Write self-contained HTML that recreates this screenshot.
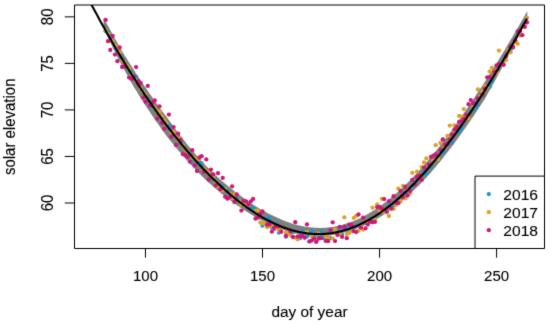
<!DOCTYPE html>
<html><head><meta charset="utf-8"><style>
html,body{margin:0;padding:0;background:#fff;}
svg{display:block;font-family:"Liberation Sans",sans-serif;}
.w{width:550px;height:324px;}
</style></head><body><div class="w">
<svg width="550" height="324" viewBox="0 0 550 324">
<defs><filter id="bl" x="0" y="0" width="550" height="324" filterUnits="userSpaceOnUse" color-interpolation-filters="sRGB"><feConvolveMatrix order="3" kernelMatrix="0.01134 0.08382 0.01134 0.08382 0.61935 0.08382 0.01134 0.08382 0.01134" divisor="1" edgeMode="duplicate" preserveAlpha="false"/></filter><clipPath id="pr"><rect x="74.5" y="5" width="470" height="243.5"/></clipPath></defs>
<g filter="url(#bl)">
<rect width="550" height="324" fill="#fff"/>
<g clip-path="url(#pr)">
<path d="M103.56,17.65 L105.19,20.72 L106.83,23.76 L108.47,26.79 L110.10,29.79 L111.74,32.78 L113.37,35.74 L115.01,38.69 L116.65,41.61 L118.28,44.51 L119.92,47.39 L121.55,50.26 L123.19,52.98 L124.82,55.63 L126.46,58.27 L128.10,60.88 L129.73,63.48 L131.37,66.05 L133.00,68.61 L134.64,71.14 L136.28,73.66 L137.91,76.15 L139.55,78.63 L141.18,81.09 L142.82,83.52 L144.46,85.94 L146.09,88.35 L147.73,90.75 L149.36,93.13 L151.00,95.50 L152.64,97.84 L154.27,100.16 L155.91,102.47 L157.54,104.75 L159.18,107.01 L160.82,109.26 L162.45,111.48 L164.09,113.68 L165.72,115.87 L167.36,118.03 L168.99,120.19 L170.63,122.48 L172.27,124.74 L173.90,126.98 L175.54,129.21 L177.17,131.41 L178.81,133.59 L180.45,135.74 L182.08,137.88 L183.72,140.00 L185.35,142.09 L186.99,144.16 L188.63,146.17 L190.26,148.12 L191.90,150.06 L193.53,151.98 L195.17,153.87 L196.81,155.75 L198.44,157.60 L200.08,159.44 L201.71,161.25 L203.35,163.05 L204.98,164.76 L206.62,166.41 L208.26,168.05 L209.89,169.67 L211.53,171.26 L213.16,172.84 L214.80,174.40 L216.44,175.94 L218.07,177.46 L219.71,178.96 L221.34,180.41 L222.98,181.82 L224.62,183.21 L226.25,184.58 L227.89,185.93 L229.52,187.26 L231.16,188.57 L232.80,189.87 L234.43,191.14 L236.07,192.39 L237.70,193.62 L239.34,194.84 L240.98,196.07 L242.61,197.29 L244.25,198.48 L245.88,199.65 L247.52,200.80 L249.15,201.93 L250.79,203.03 L252.43,204.11 L254.06,205.17 L255.70,206.21 L257.33,207.22 L258.97,208.21 L260.61,209.17 L262.24,210.11 L263.88,211.03 L265.51,211.92 L267.15,212.79 L268.79,213.63 L270.42,214.45 L272.06,215.24 L273.69,216.01 L275.33,216.80 L276.97,217.59 L278.60,218.34 L280.24,219.07 L281.87,219.78 L283.51,220.45 L285.14,221.10 L286.78,221.72 L288.42,222.31 L290.05,222.87 L291.69,223.40 L293.32,223.91 L294.96,224.38 L296.60,224.82 L298.23,225.24 L299.87,225.62 L301.50,225.98 L303.14,226.30 L304.78,226.59 L306.41,226.86 L308.05,227.09 L309.68,227.29 L311.32,227.47 L312.96,227.62 L314.59,227.73 L316.23,227.82 L317.86,227.87 L319.50,227.89 L321.14,227.88 L322.77,227.84 L324.41,227.76 L326.04,227.66 L327.68,227.52 L329.31,227.35 L330.95,227.14 L332.59,226.91 L334.22,226.64 L335.86,226.34 L337.49,226.01 L339.13,225.65 L340.77,225.25 L342.40,224.83 L344.04,224.37 L345.67,223.87 L347.31,223.34 L348.95,222.77 L350.58,222.18 L352.22,221.55 L353.85,220.89 L355.49,220.20 L357.13,219.48 L358.76,218.73 L360.40,217.95 L362.03,217.13 L363.67,216.29 L365.30,215.41 L366.94,214.51 L368.58,213.57 L370.21,212.60 L371.85,211.61 L373.48,210.58 L375.12,209.53 L376.76,208.44 L378.39,207.33 L380.03,206.18 L381.66,205.01 L383.30,203.80 L384.94,202.57 L386.57,201.31 L388.21,200.02 L389.84,198.70 L391.48,197.35 L393.12,195.98 L394.75,194.58 L396.39,193.15 L398.02,191.70 L399.66,190.22 L401.30,188.71 L402.93,187.18 L404.57,185.62 L406.20,184.03 L407.84,182.42 L409.47,180.79 L411.11,179.13 L412.75,177.44 L414.38,175.73 L416.02,173.99 L417.65,172.23 L419.29,170.45 L420.93,168.64 L422.56,166.81 L424.20,164.95 L425.83,163.08 L427.47,161.17 L429.11,159.24 L430.74,157.29 L432.38,155.31 L434.01,153.32 L435.65,151.30 L437.29,149.26 L438.92,147.19 L440.56,145.11 L442.19,143.00 L443.83,140.88 L445.46,138.73 L447.10,136.56 L448.74,134.37 L450.37,132.16 L452.01,129.93 L453.64,127.68 L455.28,125.41 L456.92,123.12 L458.55,120.81 L460.19,118.48 L461.82,116.13 L463.46,113.76 L465.10,111.37 L466.73,108.97 L468.37,106.54 L470.00,104.10 L471.64,101.64 L473.28,99.16 L474.91,96.75 L476.55,94.31 L478.18,91.86 L479.82,89.39 L481.46,86.91 L483.09,84.41 L484.73,81.89 L486.36,79.35 L488.00,76.80 L489.63,74.24 L491.27,71.65 L492.91,69.06 L494.54,66.44 L496.18,63.81 L497.81,61.17 L499.45,58.51 L501.09,55.83 L502.72,53.14 L504.36,50.44 L505.99,47.72 L507.63,44.99 L509.27,42.24 L510.90,39.48 L512.54,36.70 L514.17,33.91 L515.81,31.10 L517.45,28.29 L519.08,25.45 L520.72,22.61 L522.35,19.75 L523.99,16.88 L525.62,14.00 L527.26,11.10 L527.26,18.59 L525.62,21.91 L523.99,25.20 L522.35,28.48 L520.72,31.75 L519.08,34.99 L517.45,38.23 L515.81,41.44 L514.17,44.63 L512.54,47.81 L510.90,50.97 L509.27,54.12 L507.63,57.24 L505.99,60.35 L504.36,63.43 L502.72,66.50 L501.09,69.55 L499.45,72.58 L497.81,75.60 L496.18,78.59 L494.54,81.56 L492.91,84.52 L491.27,87.45 L489.63,90.36 L488.00,93.26 L486.36,96.13 L484.73,98.95 L483.09,101.50 L481.46,104.03 L479.82,106.54 L478.18,109.03 L476.55,111.50 L474.91,113.96 L473.28,116.39 L471.64,118.81 L470.00,121.21 L468.37,123.59 L466.73,125.95 L465.10,128.29 L463.46,130.61 L461.82,132.91 L460.19,135.19 L458.55,137.45 L456.92,139.69 L455.28,141.91 L453.64,144.11 L452.01,146.29 L450.37,148.45 L448.74,150.58 L447.10,152.70 L445.46,154.79 L443.83,156.86 L442.19,158.91 L440.56,160.94 L438.92,162.95 L437.29,164.93 L435.65,166.89 L434.01,168.83 L432.38,170.75 L430.74,172.64 L429.11,174.51 L427.47,176.36 L425.83,178.15 L424.20,179.87 L422.56,181.57 L420.93,183.24 L419.29,184.89 L417.65,186.52 L416.02,188.12 L414.38,189.70 L412.75,191.26 L411.11,192.79 L409.47,194.29 L407.84,195.78 L406.20,197.24 L404.57,198.67 L402.93,200.08 L401.30,201.46 L399.66,202.82 L398.02,204.15 L396.39,205.46 L394.75,206.74 L393.12,208.00 L391.48,209.23 L389.84,210.44 L388.21,211.61 L386.57,212.77 L384.94,213.89 L383.30,214.99 L381.66,216.06 L380.03,217.10 L378.39,218.10 L376.76,219.06 L375.12,220.00 L373.48,220.90 L371.85,221.78 L370.21,222.64 L368.58,223.46 L366.94,224.26 L365.30,225.03 L363.67,225.77 L362.03,226.48 L360.40,227.17 L358.76,227.83 L357.13,228.46 L355.49,229.06 L353.85,229.63 L352.22,230.18 L350.58,230.69 L348.95,231.18 L347.31,231.64 L345.67,232.07 L344.04,232.49 L342.40,232.95 L340.77,233.37 L339.13,233.77 L337.49,234.14 L335.86,234.48 L334.22,234.78 L332.59,235.06 L330.95,235.31 L329.31,235.53 L327.68,235.72 L326.04,235.88 L324.41,236.01 L322.77,236.11 L321.14,236.18 L319.50,236.22 L317.86,236.24 L316.23,236.22 L314.59,236.18 L312.96,236.11 L311.32,236.00 L309.68,235.87 L308.05,235.72 L306.41,235.53 L304.78,235.31 L303.14,235.07 L301.50,234.80 L299.87,234.50 L298.23,234.17 L296.60,233.82 L294.96,233.44 L293.32,233.03 L291.69,232.59 L290.05,232.13 L288.42,231.64 L286.78,231.12 L285.14,230.58 L283.51,230.01 L281.87,229.41 L280.24,228.79 L278.60,228.14 L276.97,227.47 L275.33,226.77 L273.69,226.07 L272.06,225.38 L270.42,224.67 L268.79,223.94 L267.15,223.18 L265.51,222.40 L263.88,221.60 L262.24,220.77 L260.61,219.92 L258.97,219.05 L257.33,218.15 L255.70,217.23 L254.06,216.29 L252.43,215.33 L250.79,214.34 L249.15,213.34 L247.52,212.31 L245.88,211.26 L244.25,210.19 L242.61,209.09 L240.98,207.98 L239.34,206.85 L237.70,205.72 L236.07,204.57 L234.43,203.41 L232.80,202.22 L231.16,201.02 L229.52,199.79 L227.89,198.55 L226.25,197.28 L224.62,196.00 L222.98,194.70 L221.34,193.38 L219.71,192.04 L218.07,190.68 L216.44,189.30 L214.80,187.91 L213.16,186.49 L211.53,185.06 L209.89,183.61 L208.26,182.14 L206.62,180.65 L204.98,179.15 L203.35,177.58 L201.71,175.94 L200.08,174.28 L198.44,172.60 L196.81,170.89 L195.17,169.17 L193.53,167.44 L191.90,165.68 L190.26,163.90 L188.63,162.10 L186.99,160.29 L185.35,158.46 L183.72,156.60 L182.08,154.73 L180.45,152.84 L178.81,150.93 L177.17,149.00 L175.54,147.06 L173.90,145.09 L172.27,143.11 L170.63,141.10 L168.99,139.08 L167.36,136.89 L165.72,134.68 L164.09,132.44 L162.45,130.18 L160.82,127.90 L159.18,125.60 L157.54,123.28 L155.91,120.93 L154.27,118.57 L152.64,116.18 L151.00,113.78 L149.36,111.35 L147.73,108.90 L146.09,106.42 L144.46,103.90 L142.82,101.33 L141.18,98.75 L139.55,96.14 L137.91,93.50 L136.28,90.85 L134.64,88.17 L133.00,85.40 L131.37,82.53 L129.73,79.63 L128.10,76.70 L126.46,73.75 L124.82,70.78 L123.19,67.78 L121.55,64.76 L119.92,61.71 L118.28,58.65 L116.65,55.45 L115.01,52.10 L113.37,48.73 L111.74,45.32 L110.10,41.90 L108.47,38.44 L106.83,34.96 L105.19,31.46 L103.56,27.93 Z" fill="#808080" stroke="none"/>
<g fill="#1998ca"><circle cx="105.7" cy="31.3" r="2.15"/><circle cx="108.0" cy="31.4" r="2.15"/><circle cx="110.3" cy="37.3" r="2.15"/><circle cx="115.0" cy="46.9" r="2.15"/><circle cx="117.4" cy="50.4" r="2.15"/><circle cx="122.1" cy="58.8" r="2.15"/><circle cx="124.4" cy="62.6" r="2.15"/><circle cx="126.7" cy="67.0" r="2.15"/><circle cx="129.1" cy="69.5" r="2.15"/><circle cx="131.4" cy="72.9" r="2.15"/><circle cx="136.1" cy="76.8" r="2.15"/><circle cx="143.1" cy="89.9" r="2.15"/><circle cx="145.5" cy="95.5" r="2.15"/><circle cx="152.5" cy="106.3" r="2.15"/><circle cx="154.8" cy="108.3" r="2.15"/><circle cx="157.2" cy="112.1" r="2.15"/><circle cx="161.8" cy="118.1" r="2.15"/><circle cx="164.2" cy="121.8" r="2.15"/><circle cx="168.9" cy="125.3" r="2.15"/><circle cx="175.9" cy="137.8" r="2.15"/><circle cx="178.2" cy="140.3" r="2.15"/><circle cx="182.9" cy="143.9" r="2.15"/><circle cx="187.6" cy="151.9" r="2.15"/><circle cx="192.3" cy="159.4" r="2.15"/><circle cx="199.3" cy="162.1" r="2.15"/><circle cx="201.6" cy="163.5" r="2.15"/><circle cx="204.0" cy="170.3" r="2.15"/><circle cx="213.3" cy="178.0" r="2.15"/><circle cx="215.7" cy="180.3" r="2.15"/><circle cx="222.7" cy="186.2" r="2.15"/><circle cx="225.1" cy="190.1" r="2.15"/><circle cx="227.4" cy="190.9" r="2.15"/><circle cx="232.1" cy="197.2" r="2.15"/><circle cx="234.4" cy="197.0" r="2.15"/><circle cx="236.8" cy="199.3" r="2.15"/><circle cx="250.8" cy="207.5" r="2.15"/><circle cx="253.1" cy="209.1" r="2.15"/><circle cx="255.5" cy="209.5" r="2.15"/><circle cx="262.5" cy="225.7" r="2.15"/><circle cx="267.2" cy="219.3" r="2.15"/><circle cx="269.5" cy="217.5" r="2.15"/><circle cx="271.9" cy="227.7" r="2.15"/><circle cx="274.2" cy="229.1" r="2.15"/><circle cx="276.6" cy="223.7" r="2.15"/><circle cx="278.9" cy="232.5" r="2.15"/><circle cx="285.9" cy="236.7" r="2.15"/><circle cx="290.6" cy="231.1" r="2.15"/><circle cx="292.9" cy="232.2" r="2.15"/><circle cx="300.0" cy="238.2" r="2.15"/><circle cx="302.3" cy="231.5" r="2.15"/><circle cx="304.6" cy="233.5" r="2.15"/><circle cx="307.0" cy="236.6" r="2.15"/><circle cx="311.7" cy="231.2" r="2.15"/><circle cx="314.0" cy="237.9" r="2.15"/><circle cx="316.3" cy="241.7" r="2.15"/><circle cx="318.7" cy="236.7" r="2.15"/><circle cx="321.0" cy="231.3" r="2.15"/><circle cx="323.4" cy="238.0" r="2.15"/><circle cx="328.1" cy="238.2" r="2.15"/><circle cx="330.4" cy="238.1" r="2.15"/><circle cx="335.1" cy="230.8" r="2.15"/><circle cx="337.4" cy="231.1" r="2.15"/><circle cx="342.1" cy="234.9" r="2.15"/><circle cx="344.4" cy="227.7" r="2.15"/><circle cx="346.8" cy="228.5" r="2.15"/><circle cx="349.1" cy="230.6" r="2.15"/><circle cx="351.5" cy="226.5" r="2.15"/><circle cx="360.8" cy="226.9" r="2.15"/><circle cx="367.8" cy="222.5" r="2.15"/><circle cx="370.2" cy="221.0" r="2.15"/><circle cx="372.5" cy="222.2" r="2.15"/><circle cx="386.6" cy="212.2" r="2.15"/><circle cx="388.9" cy="206.4" r="2.15"/><circle cx="393.6" cy="205.2" r="2.15"/><circle cx="407.6" cy="194.2" r="2.15"/><circle cx="412.3" cy="186.3" r="2.15"/><circle cx="424.0" cy="172.7" r="2.15"/><circle cx="426.4" cy="173.7" r="2.15"/><circle cx="431.0" cy="167.0" r="2.15"/><circle cx="438.1" cy="159.7" r="2.15"/><circle cx="442.8" cy="152.5" r="2.15"/><circle cx="445.1" cy="148.0" r="2.15"/><circle cx="452.1" cy="142.9" r="2.15"/><circle cx="459.1" cy="132.1" r="2.15"/><circle cx="461.5" cy="128.3" r="2.15"/><circle cx="473.2" cy="109.9" r="2.15"/><circle cx="475.5" cy="108.1" r="2.15"/><circle cx="477.9" cy="104.5" r="2.15"/><circle cx="482.5" cy="96.1" r="2.15"/><circle cx="489.6" cy="87.0" r="2.15"/><circle cx="491.9" cy="81.3" r="2.15"/><circle cx="501.3" cy="62.8" r="2.15"/><circle cx="510.6" cy="49.3" r="2.15"/><circle cx="513.0" cy="46.7" r="2.15"/><circle cx="515.3" cy="40.9" r="2.15"/></g>
<g fill="#e0a028"><circle cx="105.7" cy="30.7" r="2.15"/><circle cx="108.0" cy="33.6" r="2.15"/><circle cx="110.3" cy="40.9" r="2.15"/><circle cx="112.7" cy="41.3" r="2.15"/><circle cx="115.0" cy="45.3" r="2.15"/><circle cx="117.4" cy="47.9" r="2.15"/><circle cx="119.7" cy="52.3" r="2.15"/><circle cx="122.1" cy="60.6" r="2.15"/><circle cx="124.4" cy="62.4" r="2.15"/><circle cx="126.7" cy="65.7" r="2.15"/><circle cx="129.1" cy="68.6" r="2.15"/><circle cx="131.4" cy="74.5" r="2.15"/><circle cx="136.1" cy="81.0" r="2.15"/><circle cx="138.4" cy="83.0" r="2.15"/><circle cx="140.8" cy="88.3" r="2.15"/><circle cx="143.1" cy="91.8" r="2.15"/><circle cx="145.5" cy="94.7" r="2.15"/><circle cx="152.5" cy="104.3" r="2.15"/><circle cx="154.8" cy="108.2" r="2.15"/><circle cx="157.2" cy="111.5" r="2.15"/><circle cx="159.5" cy="112.0" r="2.15"/><circle cx="161.8" cy="116.5" r="2.15"/><circle cx="164.2" cy="120.4" r="2.15"/><circle cx="166.5" cy="123.3" r="2.15"/><circle cx="171.2" cy="131.9" r="2.15"/><circle cx="173.6" cy="132.0" r="2.15"/><circle cx="175.9" cy="136.9" r="2.15"/><circle cx="178.2" cy="140.3" r="2.15"/><circle cx="180.6" cy="138.4" r="2.15"/><circle cx="182.9" cy="145.1" r="2.15"/><circle cx="185.3" cy="149.1" r="2.15"/><circle cx="187.6" cy="151.7" r="2.15"/><circle cx="192.3" cy="157.4" r="2.15"/><circle cx="194.6" cy="158.4" r="2.15"/><circle cx="197.0" cy="159.7" r="2.15"/><circle cx="199.3" cy="159.0" r="2.15"/><circle cx="204.0" cy="169.2" r="2.15"/><circle cx="206.3" cy="171.9" r="2.15"/><circle cx="208.7" cy="172.1" r="2.15"/><circle cx="213.3" cy="176.8" r="2.15"/><circle cx="215.7" cy="181.6" r="2.15"/><circle cx="218.0" cy="186.7" r="2.15"/><circle cx="222.7" cy="190.1" r="2.15"/><circle cx="225.1" cy="188.8" r="2.15"/><circle cx="229.7" cy="193.6" r="2.15"/><circle cx="232.1" cy="198.0" r="2.15"/><circle cx="234.4" cy="194.5" r="2.15"/><circle cx="239.1" cy="201.1" r="2.15"/><circle cx="241.4" cy="204.4" r="2.15"/><circle cx="243.8" cy="204.6" r="2.15"/><circle cx="246.1" cy="206.2" r="2.15"/><circle cx="248.5" cy="204.7" r="2.15"/><circle cx="255.5" cy="211.0" r="2.15"/><circle cx="257.8" cy="210.5" r="2.15"/><circle cx="260.2" cy="222.6" r="2.15"/><circle cx="262.5" cy="223.4" r="2.15"/><circle cx="264.8" cy="223.7" r="2.15"/><circle cx="267.2" cy="227.2" r="2.15"/><circle cx="269.5" cy="225.9" r="2.15"/><circle cx="271.9" cy="226.1" r="2.15"/><circle cx="276.6" cy="228.2" r="2.15"/><circle cx="278.9" cy="230.7" r="2.15"/><circle cx="281.2" cy="230.8" r="2.15"/><circle cx="285.9" cy="232.6" r="2.15"/><circle cx="288.3" cy="233.6" r="2.15"/><circle cx="290.6" cy="235.3" r="2.15"/><circle cx="295.3" cy="237.7" r="2.15"/><circle cx="297.6" cy="239.3" r="2.15"/><circle cx="302.3" cy="235.3" r="2.15"/><circle cx="307.0" cy="232.1" r="2.15"/><circle cx="311.7" cy="236.2" r="2.15"/><circle cx="316.3" cy="238.7" r="2.15"/><circle cx="318.7" cy="233.7" r="2.15"/><circle cx="325.7" cy="236.4" r="2.15"/><circle cx="328.1" cy="237.7" r="2.15"/><circle cx="332.7" cy="238.4" r="2.15"/><circle cx="335.1" cy="229.7" r="2.15"/><circle cx="339.8" cy="234.6" r="2.15"/><circle cx="344.4" cy="217.3" r="2.15"/><circle cx="346.8" cy="233.9" r="2.15"/><circle cx="349.1" cy="232.9" r="2.15"/><circle cx="351.5" cy="231.3" r="2.15"/><circle cx="353.8" cy="217.9" r="2.15"/><circle cx="356.1" cy="215.9" r="2.15"/><circle cx="358.5" cy="230.9" r="2.15"/><circle cx="360.8" cy="225.0" r="2.15"/><circle cx="363.2" cy="229.6" r="2.15"/><circle cx="367.8" cy="221.4" r="2.15"/><circle cx="372.5" cy="207.7" r="2.15"/><circle cx="374.9" cy="220.2" r="2.15"/><circle cx="377.2" cy="204.4" r="2.15"/><circle cx="379.6" cy="211.5" r="2.15"/><circle cx="381.9" cy="198.8" r="2.15"/><circle cx="384.2" cy="212.2" r="2.15"/><circle cx="386.6" cy="211.0" r="2.15"/><circle cx="388.9" cy="216.0" r="2.15"/><circle cx="391.3" cy="209.1" r="2.15"/><circle cx="393.6" cy="208.9" r="2.15"/><circle cx="395.9" cy="205.0" r="2.15"/><circle cx="398.3" cy="188.6" r="2.15"/><circle cx="400.6" cy="201.4" r="2.15"/><circle cx="403.0" cy="185.8" r="2.15"/><circle cx="405.3" cy="198.3" r="2.15"/><circle cx="407.6" cy="189.0" r="2.15"/><circle cx="410.0" cy="193.4" r="2.15"/><circle cx="412.3" cy="172.8" r="2.15"/><circle cx="417.0" cy="171.7" r="2.15"/><circle cx="421.7" cy="167.1" r="2.15"/><circle cx="424.0" cy="162.4" r="2.15"/><circle cx="426.4" cy="158.4" r="2.15"/><circle cx="428.7" cy="165.6" r="2.15"/><circle cx="433.4" cy="160.8" r="2.15"/><circle cx="435.7" cy="145.2" r="2.15"/><circle cx="438.1" cy="159.1" r="2.15"/><circle cx="440.4" cy="143.0" r="2.15"/><circle cx="442.8" cy="139.6" r="2.15"/><circle cx="445.1" cy="147.2" r="2.15"/><circle cx="447.4" cy="136.0" r="2.15"/><circle cx="449.8" cy="125.6" r="2.15"/><circle cx="452.1" cy="133.3" r="2.15"/><circle cx="454.5" cy="125.5" r="2.15"/><circle cx="459.1" cy="115.9" r="2.15"/><circle cx="461.5" cy="116.7" r="2.15"/><circle cx="463.8" cy="109.1" r="2.15"/><circle cx="466.2" cy="116.1" r="2.15"/><circle cx="468.5" cy="118.1" r="2.15"/><circle cx="473.2" cy="107.4" r="2.15"/><circle cx="477.9" cy="89.5" r="2.15"/><circle cx="480.2" cy="96.6" r="2.15"/><circle cx="482.5" cy="91.4" r="2.15"/><circle cx="484.9" cy="86.5" r="2.15"/><circle cx="487.2" cy="87.3" r="2.15"/><circle cx="489.6" cy="71.6" r="2.15"/><circle cx="491.9" cy="67.9" r="2.15"/><circle cx="494.3" cy="71.8" r="2.15"/><circle cx="496.6" cy="72.4" r="2.15"/><circle cx="498.9" cy="50.6" r="2.15"/><circle cx="501.3" cy="63.7" r="2.15"/><circle cx="503.6" cy="64.5" r="2.15"/><circle cx="506.0" cy="60.2" r="2.15"/><circle cx="508.3" cy="50.5" r="2.15"/><circle cx="510.6" cy="52.4" r="2.15"/><circle cx="513.0" cy="46.6" r="2.15"/><circle cx="515.3" cy="42.1" r="2.15"/><circle cx="517.7" cy="43.8" r="2.15"/><circle cx="520.0" cy="35.5" r="2.15"/><circle cx="524.7" cy="27.2" r="2.15"/><circle cx="527.0" cy="17.7" r="2.15"/></g>
<g fill="#cc187b"><circle cx="105.7" cy="19.9" r="2.15"/><circle cx="108.0" cy="41.2" r="2.15"/><circle cx="110.3" cy="50.0" r="2.15"/><circle cx="112.7" cy="36.0" r="2.15"/><circle cx="115.0" cy="54.6" r="2.15"/><circle cx="117.4" cy="61.2" r="2.15"/><circle cx="119.7" cy="47.4" r="2.15"/><circle cx="122.1" cy="67.0" r="2.15"/><circle cx="124.4" cy="66.5" r="2.15"/><circle cx="129.1" cy="77.6" r="2.15"/><circle cx="131.4" cy="79.0" r="2.15"/><circle cx="133.8" cy="76.6" r="2.15"/><circle cx="136.1" cy="67.1" r="2.15"/><circle cx="138.4" cy="81.2" r="2.15"/><circle cx="140.8" cy="83.1" r="2.15"/><circle cx="143.1" cy="97.6" r="2.15"/><circle cx="145.5" cy="101.8" r="2.15"/><circle cx="147.8" cy="85.9" r="2.15"/><circle cx="150.1" cy="105.5" r="2.15"/><circle cx="152.5" cy="102.7" r="2.15"/><circle cx="154.8" cy="100.4" r="2.15"/><circle cx="157.2" cy="118.7" r="2.15"/><circle cx="159.5" cy="106.3" r="2.15"/><circle cx="161.8" cy="122.9" r="2.15"/><circle cx="164.2" cy="128.9" r="2.15"/><circle cx="168.9" cy="114.6" r="2.15"/><circle cx="171.2" cy="136.8" r="2.15"/><circle cx="173.6" cy="127.1" r="2.15"/><circle cx="175.9" cy="145.0" r="2.15"/><circle cx="178.2" cy="133.7" r="2.15"/><circle cx="180.6" cy="139.8" r="2.15"/><circle cx="182.9" cy="154.2" r="2.15"/><circle cx="185.3" cy="155.2" r="2.15"/><circle cx="187.6" cy="157.2" r="2.15"/><circle cx="189.9" cy="161.8" r="2.15"/><circle cx="192.3" cy="150.2" r="2.15"/><circle cx="194.6" cy="165.5" r="2.15"/><circle cx="197.0" cy="171.0" r="2.15"/><circle cx="199.3" cy="157.5" r="2.15"/><circle cx="201.6" cy="156.2" r="2.15"/><circle cx="204.0" cy="171.9" r="2.15"/><circle cx="206.3" cy="159.4" r="2.15"/><circle cx="208.7" cy="179.5" r="2.15"/><circle cx="211.0" cy="169.6" r="2.15"/><circle cx="213.3" cy="174.4" r="2.15"/><circle cx="215.7" cy="185.6" r="2.15"/><circle cx="218.0" cy="173.2" r="2.15"/><circle cx="220.4" cy="189.2" r="2.15"/><circle cx="222.7" cy="177.9" r="2.15"/><circle cx="225.1" cy="196.8" r="2.15"/><circle cx="227.4" cy="198.7" r="2.15"/><circle cx="229.7" cy="197.1" r="2.15"/><circle cx="232.1" cy="186.3" r="2.15"/><circle cx="234.4" cy="202.0" r="2.15"/><circle cx="236.8" cy="194.5" r="2.15"/><circle cx="241.4" cy="210.6" r="2.15"/><circle cx="243.8" cy="200.8" r="2.15"/><circle cx="246.1" cy="201.3" r="2.15"/><circle cx="248.5" cy="204.3" r="2.15"/><circle cx="250.8" cy="201.3" r="2.15"/><circle cx="253.1" cy="198.9" r="2.15"/><circle cx="255.5" cy="218.7" r="2.15"/><circle cx="257.8" cy="217.7" r="2.15"/><circle cx="260.2" cy="213.9" r="2.15"/><circle cx="262.5" cy="211.5" r="2.15"/><circle cx="267.2" cy="224.7" r="2.15"/><circle cx="269.5" cy="224.4" r="2.15"/><circle cx="271.9" cy="231.7" r="2.15"/><circle cx="274.2" cy="227.6" r="2.15"/><circle cx="276.6" cy="225.8" r="2.15"/><circle cx="278.9" cy="226.6" r="2.15"/><circle cx="281.2" cy="231.8" r="2.15"/><circle cx="285.9" cy="236.0" r="2.15"/><circle cx="290.6" cy="231.6" r="2.15"/><circle cx="292.9" cy="237.0" r="2.15"/><circle cx="295.3" cy="222.2" r="2.15"/><circle cx="297.6" cy="236.6" r="2.15"/><circle cx="300.0" cy="236.2" r="2.15"/><circle cx="302.3" cy="235.9" r="2.15"/><circle cx="304.6" cy="237.8" r="2.15"/><circle cx="307.0" cy="224.3" r="2.15"/><circle cx="309.3" cy="241.5" r="2.15"/><circle cx="311.7" cy="240.6" r="2.15"/><circle cx="314.0" cy="238.4" r="2.15"/><circle cx="316.3" cy="241.8" r="2.15"/><circle cx="318.7" cy="238.7" r="2.15"/><circle cx="321.0" cy="238.2" r="2.15"/><circle cx="325.7" cy="240.9" r="2.15"/><circle cx="328.1" cy="241.2" r="2.15"/><circle cx="330.4" cy="230.1" r="2.15"/><circle cx="332.7" cy="222.3" r="2.15"/><circle cx="335.1" cy="241.1" r="2.15"/><circle cx="337.4" cy="234.9" r="2.15"/><circle cx="339.8" cy="226.9" r="2.15"/><circle cx="342.1" cy="236.9" r="2.15"/><circle cx="344.4" cy="226.9" r="2.15"/><circle cx="346.8" cy="238.2" r="2.15"/><circle cx="349.1" cy="224.6" r="2.15"/><circle cx="351.5" cy="225.0" r="2.15"/><circle cx="353.8" cy="231.1" r="2.15"/><circle cx="356.1" cy="232.0" r="2.15"/><circle cx="358.5" cy="214.5" r="2.15"/><circle cx="360.8" cy="227.7" r="2.15"/><circle cx="363.2" cy="217.6" r="2.15"/><circle cx="365.5" cy="228.3" r="2.15"/><circle cx="367.8" cy="224.6" r="2.15"/><circle cx="370.2" cy="221.7" r="2.15"/><circle cx="372.5" cy="222.2" r="2.15"/><circle cx="374.9" cy="221.9" r="2.15"/><circle cx="377.2" cy="207.1" r="2.15"/><circle cx="379.6" cy="206.9" r="2.15"/><circle cx="381.9" cy="208.7" r="2.15"/><circle cx="384.2" cy="199.1" r="2.15"/><circle cx="386.6" cy="211.4" r="2.15"/><circle cx="388.9" cy="201.1" r="2.15"/><circle cx="391.3" cy="208.3" r="2.15"/><circle cx="393.6" cy="196.2" r="2.15"/><circle cx="395.9" cy="202.8" r="2.15"/><circle cx="398.3" cy="203.2" r="2.15"/><circle cx="400.6" cy="191.0" r="2.15"/><circle cx="403.0" cy="197.1" r="2.15"/><circle cx="405.3" cy="186.9" r="2.15"/><circle cx="407.6" cy="195.5" r="2.15"/><circle cx="410.0" cy="191.1" r="2.15"/><circle cx="412.3" cy="179.8" r="2.15"/><circle cx="414.7" cy="184.6" r="2.15"/><circle cx="417.0" cy="177.0" r="2.15"/><circle cx="419.3" cy="175.5" r="2.15"/><circle cx="421.7" cy="179.9" r="2.15"/><circle cx="424.0" cy="167.7" r="2.15"/><circle cx="428.7" cy="164.7" r="2.15"/><circle cx="431.0" cy="157.0" r="2.15"/><circle cx="433.4" cy="155.6" r="2.15"/><circle cx="435.7" cy="154.5" r="2.15"/><circle cx="440.4" cy="149.9" r="2.15"/><circle cx="442.8" cy="139.5" r="2.15"/><circle cx="445.1" cy="144.7" r="2.15"/><circle cx="447.4" cy="144.0" r="2.15"/><circle cx="449.8" cy="139.9" r="2.15"/><circle cx="452.1" cy="134.4" r="2.15"/><circle cx="454.5" cy="129.3" r="2.15"/><circle cx="456.8" cy="127.0" r="2.15"/><circle cx="459.1" cy="121.8" r="2.15"/><circle cx="461.5" cy="121.4" r="2.15"/><circle cx="463.8" cy="119.0" r="2.15"/><circle cx="466.2" cy="114.8" r="2.15"/><circle cx="468.5" cy="104.2" r="2.15"/><circle cx="470.8" cy="100.1" r="2.15"/><circle cx="473.2" cy="103.2" r="2.15"/><circle cx="475.5" cy="103.9" r="2.15"/><circle cx="477.9" cy="98.4" r="2.15"/><circle cx="482.5" cy="94.8" r="2.15"/><circle cx="484.9" cy="88.7" r="2.15"/><circle cx="487.2" cy="77.3" r="2.15"/><circle cx="489.6" cy="77.1" r="2.15"/><circle cx="494.3" cy="71.8" r="2.15"/><circle cx="496.6" cy="65.3" r="2.15"/><circle cx="498.9" cy="64.2" r="2.15"/><circle cx="503.6" cy="64.8" r="2.15"/><circle cx="506.0" cy="56.5" r="2.15"/><circle cx="510.6" cy="46.4" r="2.15"/><circle cx="513.0" cy="47.4" r="2.15"/><circle cx="515.3" cy="40.4" r="2.15"/><circle cx="517.7" cy="31.4" r="2.15"/><circle cx="520.0" cy="31.2" r="2.15"/><circle cx="522.3" cy="35.2" r="2.15"/><circle cx="524.7" cy="26.7" r="2.15"/><circle cx="527.0" cy="22.5" r="2.15"/></g>
<path d="M75.23,-26.64 L76.74,-23.66 L78.26,-20.70 L79.77,-17.74 L81.28,-14.80 L82.79,-11.87 L84.30,-8.96 L85.81,-6.06 L87.32,-3.17 L88.83,-0.30 L90.34,2.56 L91.85,5.40 L93.37,8.23 L94.88,11.04 L96.39,13.84 L97.90,16.62 L99.41,19.39 L100.92,22.14 L102.43,24.87 L103.94,27.59 L105.45,30.29 L106.96,32.98 L108.48,35.65 L109.99,38.30 L111.50,40.94 L113.01,43.56 L114.52,46.16 L116.03,48.74 L117.54,51.31 L119.05,53.86 L120.56,56.40 L122.07,58.91 L123.59,61.41 L125.10,63.89 L126.61,66.36 L128.12,68.80 L129.63,71.23 L131.14,73.65 L132.65,76.04 L134.16,78.42 L135.67,80.78 L137.18,83.12 L138.70,85.44 L140.21,87.75 L141.72,90.04 L143.23,92.31 L144.74,94.57 L146.25,96.80 L147.76,99.02 L149.27,101.23 L150.78,103.41 L152.29,105.58 L153.81,107.73 L155.32,109.87 L156.83,111.98 L158.34,114.08 L159.85,116.16 L161.36,118.23 L162.87,120.28 L164.38,122.31 L165.89,124.32 L167.40,126.32 L168.92,128.30 L170.43,130.26 L171.94,132.21 L173.45,134.13 L174.96,136.05 L176.47,137.94 L177.98,139.82 L179.49,141.68 L181.00,143.53 L182.52,145.36 L184.03,147.17 L185.54,148.96 L187.05,150.74 L188.56,152.50 L190.07,154.25 L191.58,155.98 L193.09,157.69 L194.60,159.38 L196.11,161.06 L197.63,162.72 L199.14,164.37 L200.65,165.99 L202.16,167.61 L203.67,169.20 L205.18,170.78 L206.69,172.34 L208.20,173.88 L209.71,175.41 L211.22,176.92 L212.74,178.41 L214.25,179.88 L215.76,181.34 L217.27,182.78 L218.78,184.20 L220.29,185.61 L221.80,187.00 L223.31,188.37 L224.82,189.72 L226.33,191.06 L227.85,192.38 L229.36,193.68 L230.87,194.96 L232.38,196.22 L233.89,197.47 L235.40,198.69 L236.91,199.90 L238.42,201.09 L239.93,202.26 L241.44,203.41 L242.96,204.55 L244.47,205.66 L245.98,206.76 L247.49,207.83 L249.00,208.89 L250.51,209.93 L252.02,210.94 L253.53,211.94 L255.04,212.92 L256.55,213.88 L258.07,214.81 L259.58,215.73 L261.09,216.63 L262.60,217.50 L264.11,218.36 L265.62,219.19 L267.13,220.00 L268.64,220.79 L270.15,221.56 L271.67,222.31 L273.18,223.04 L274.69,223.74 L276.20,224.42 L277.71,225.08 L279.22,225.72 L280.73,226.34 L282.24,226.93 L283.75,227.50 L285.26,228.05 L286.78,228.57 L288.29,229.08 L289.80,229.55 L291.31,230.01 L292.82,230.44 L294.33,230.85 L295.84,231.23 L297.35,231.59 L298.86,231.93 L300.37,232.24 L301.89,232.52 L303.40,232.79 L304.91,233.02 L306.42,233.24 L307.93,233.43 L309.44,233.59 L310.95,233.73 L312.46,233.85 L313.97,233.93 L315.48,234.00 L317.00,234.04 L318.51,234.05 L320.02,234.04 L321.53,234.00 L323.04,233.94 L324.55,233.85 L326.06,233.74 L327.57,233.60 L329.08,233.43 L330.59,233.24 L332.11,233.03 L333.62,232.78 L335.13,232.52 L336.64,232.22 L338.15,231.90 L339.66,231.56 L341.17,231.18 L342.68,230.79 L344.19,230.36 L345.70,229.91 L347.22,229.44 L348.73,228.94 L350.24,228.41 L351.75,227.86 L353.26,227.28 L354.77,226.68 L356.28,226.05 L357.79,225.39 L359.30,224.71 L360.81,224.01 L362.33,223.28 L363.84,222.52 L365.35,221.74 L366.86,220.93 L368.37,220.10 L369.88,219.24 L371.39,218.36 L372.90,217.45 L374.41,216.52 L375.93,215.57 L377.44,214.59 L378.95,213.58 L380.46,212.55 L381.97,211.50 L383.48,210.42 L384.99,209.32 L386.50,208.19 L388.01,207.04 L389.52,205.87 L391.04,204.67 L392.55,203.45 L394.06,202.21 L395.57,200.94 L397.08,199.65 L398.59,198.34 L400.10,197.00 L401.61,195.65 L403.12,194.27 L404.63,192.86 L406.15,191.44 L407.66,189.99 L409.17,188.53 L410.68,187.04 L412.19,185.53 L413.70,183.99 L415.21,182.44 L416.72,180.86 L418.23,179.27 L419.74,177.65 L421.26,176.02 L422.77,174.36 L424.28,172.68 L425.79,170.98 L427.30,169.26 L428.81,167.53 L430.32,165.77 L431.83,163.99 L433.34,162.19 L434.85,160.38 L436.37,158.54 L437.88,156.69 L439.39,154.82 L440.90,152.93 L442.41,151.02 L443.92,149.09 L445.43,147.14 L446.94,145.18 L448.45,143.20 L449.96,141.19 L451.48,139.18 L452.99,137.14 L454.50,135.09 L456.01,133.02 L457.52,130.93 L459.03,128.83 L460.54,126.70 L462.05,124.57 L463.56,122.41 L465.08,120.24 L466.59,118.05 L468.10,115.85 L469.61,113.63 L471.12,111.39 L472.63,109.14 L474.14,106.87 L475.65,104.59 L477.16,102.29 L478.67,99.97 L480.19,97.64 L481.70,95.30 L483.21,92.94 L484.72,90.56 L486.23,88.17 L487.74,85.77 L489.25,83.35 L490.76,80.91 L492.27,78.46 L493.78,76.00 L495.30,73.52 L496.81,71.03 L498.32,68.52 L499.83,66.00 L501.34,63.47 L502.85,60.92 L504.36,58.36 L505.87,55.79 L507.38,53.20 L508.89,50.60 L510.41,47.98 L511.92,45.36 L513.43,42.71 L514.94,40.06 L516.45,37.40 L517.96,34.72 L519.47,32.03 L520.98,29.33 L522.49,26.61 L524.00,23.88 L525.52,21.15 L527.03,18.40" fill="none" stroke="#000" stroke-width="2.1"/>
</g>
<g stroke="#000" stroke-width="1" fill="none">
<path d="M74.5,5 H544.5 V248.5 H74.5 Z"/>
<line x1="145.46" y1="248.5" x2="145.46" y2="257.7"/><line x1="262.50" y1="248.5" x2="262.50" y2="257.7"/><line x1="379.55" y1="248.5" x2="379.55" y2="257.7"/><line x1="496.60" y1="248.5" x2="496.60" y2="257.7"/><line x1="64.8" y1="203.00" x2="74.5" y2="203.00"/><line x1="64.8" y1="156.46" x2="74.5" y2="156.46"/><line x1="64.8" y1="109.92" x2="74.5" y2="109.92"/><line x1="64.8" y1="63.39" x2="74.5" y2="63.39"/><line x1="64.8" y1="16.85" x2="74.5" y2="16.85"/>
<path d="M475,248.5 V176.1 H544.5"/>
</g>
<g font-size="15" fill="#000" stroke="#000" stroke-width="0.12" style="will-change:transform">
<text transform="translate(145.46,280.8) scale(1,1.0)" text-anchor="middle">100</text><text transform="translate(262.50,280.8) scale(1,1.0)" text-anchor="middle">150</text><text transform="translate(379.55,280.8) scale(1,1.0)" text-anchor="middle">200</text><text transform="translate(496.60,280.8) scale(1,1.0)" text-anchor="middle">250</text><text transform="translate(52.7,203.00) scale(1.06,1) rotate(-90)" text-anchor="middle">60</text><text transform="translate(52.7,156.46) scale(1.06,1) rotate(-90)" text-anchor="middle">65</text><text transform="translate(52.7,109.92) scale(1.06,1) rotate(-90)" text-anchor="middle">70</text><text transform="translate(52.7,63.39) scale(1.06,1) rotate(-90)" text-anchor="middle">75</text><text transform="translate(52.7,16.85) scale(1.06,1) rotate(-90)" text-anchor="middle">80</text>
<text transform="translate(309.5,316.6) scale(1,1.0)" text-anchor="middle" font-size="15.4">day of year</text>
<text transform="translate(14.9,126.8) scale(1.06,1) rotate(-90)" text-anchor="middle" font-size="15">solar elevation</text>
</g>
<circle cx="488.8" cy="194.1" r="2.15" fill="#1998ca"/>
<circle cx="488.8" cy="212.2" r="2.15" fill="#e0a028"/>
<circle cx="488.8" cy="230.2" r="2.15" fill="#cc187b"/>
<g font-size="15" fill="#000" stroke="#000" stroke-width="0.12" style="will-change:transform">
<text transform="translate(503.3,199.6) scale(1.04,1)">2016</text>
<text transform="translate(503.3,217.7) scale(1.04,1)">2017</text>
<text transform="translate(503.3,235.7) scale(1.04,1)">2018</text>
</g>
</g>
</svg></div>
</body></html>
